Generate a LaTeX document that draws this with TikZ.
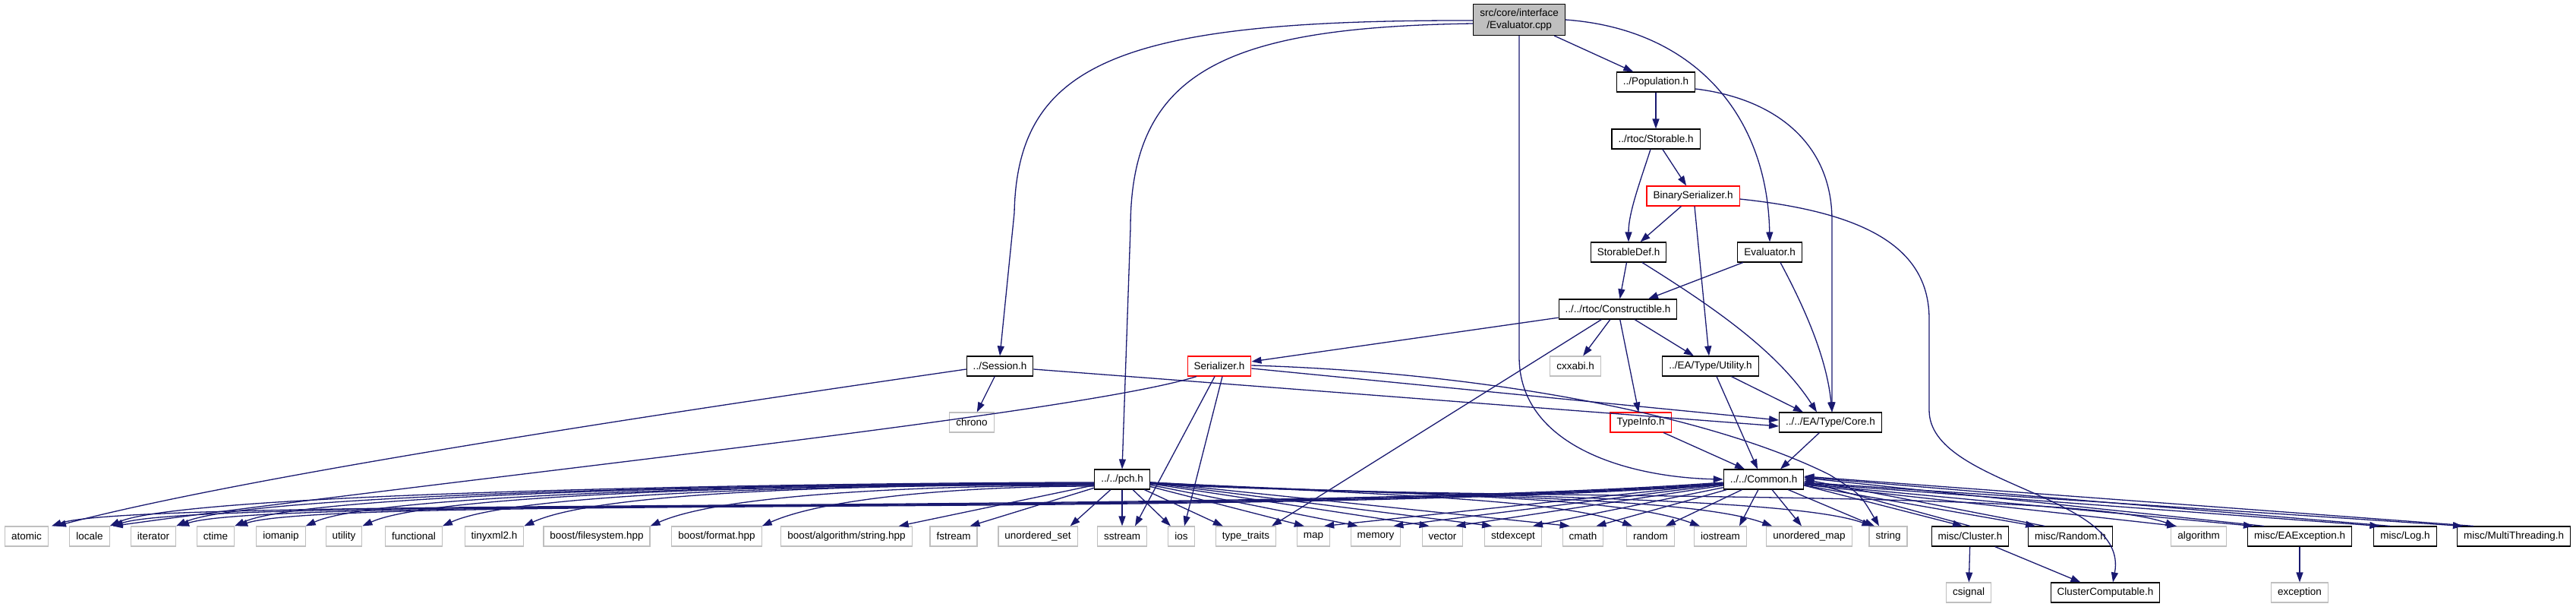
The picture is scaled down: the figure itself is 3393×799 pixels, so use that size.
\documentclass[tikz,border=0pt]{standalone}
\usepackage{fontspec}
\newfontfamily\dxfont{Liberation Sans}
\usetikzlibrary{arrows.meta}
\definecolor{incblue}{HTML}{191970}
\definecolor{sysgray}{HTML}{BFBFBF}
\tikzset{
  hdr/.style={draw=black, line width=1.1pt, fill=white, rectangle, minimum height=26pt, inner xsep=8.5pt, inner ysep=3pt, font=\dxfont\fontsize{13.5}{15.5}\selectfont},
  syshdr/.style={hdr, draw=sysgray},
  cuthdr/.style={hdr, draw=red},
  roothdr/.style={hdr, fill=sysgray, minimum height=41pt, align=center},
  incarrow/.style={draw=incblue, line width=1.3pt, -{Triangle[length=13pt, width=9pt]}}
}
\begin{document}
\begin{tikzpicture}[x=1pt, y=1pt]
  \useasboundingbox (0,0) rectangle (3393,-799);
  \node[roothdr] (root) at (2001,-26) {src/core/interface\\/Evaluator.cpp};
  \node[hdr] (population) at (2181,-108) {../Population.h};
  \node[hdr] (storable) at (2181,-183) {../rtoc/Storable.h};
  \node[cuthdr] (binser) at (2230,-258) {BinarySerializer.h};
  \node[hdr] (storabledef) at (2145,-332) {StorableDef.h};
  \node[hdr] (evalh) at (2331,-332) {Evaluator.h};
  \node[hdr] (constructible) at (2131,-407) {../../rtoc/Constructible.h};
  \node[hdr] (session) at (1317,-482) {../Session.h};
  \node[cuthdr] (serializer) at (1606,-482) {Serializer.h};
  \node[syshdr] (cxxabi) at (2075,-482) {cxxabi.h};
  \node[hdr] (eautility) at (2253,-482) {../EA/Type/Utility.h};
  \node[syshdr] (chrono) at (1280,-556) {chrono};
  \node[cuthdr] (typeinfo) at (2161,-556) {TypeInfo.h};
  \node[hdr] (eacore) at (2411,-556) {../../EA/Type/Core.h};
  \node[hdr] (pch) at (1478,-631) {../../pch.h};
  \node[hdr] (common) at (2323,-631) {../../Common.h};

  \node[syshdr] (atomic) at (35,-706) {atomic};
  \node[syshdr] (locale) at (118,-706) {locale};
  \node[syshdr] (iterator) at (202,-706) {iterator};
  \node[syshdr] (ctime) at (284,-706) {ctime};
  \node[syshdr] (iomanip) at (370,-706) {iomanip};
  \node[syshdr] (utility) at (453,-706) {utility};
  \node[syshdr] (functional) at (545,-706) {functional};
  \node[syshdr] (tinyxml) at (651,-706) {tinyxml2.h};
  \node[syshdr] (boostfs) at (786,-706) {boost/filesystem.hpp};
  \node[syshdr] (boostfmt) at (944,-706) {boost/format.hpp};
  \node[syshdr] (boostalg) at (1115,-706) {boost/algorithm/string.hpp};
  \node[syshdr] (fstream) at (1256,-706) {fstream};
  \node[syshdr] (uset) at (1367,-706) {unordered\_set};
  \node[syshdr] (sstream) at (1478,-706) {sstream};
  \node[syshdr] (ios) at (1556,-706) {ios};
  \node[syshdr] (typetraits) at (1641,-706) {type\_traits};
  \node[syshdr] (map) at (1730,-706) {map};
  \node[syshdr] (memory) at (1812,-706) {memory};
  \node[syshdr] (vector) at (1900,-706) {vector};
  \node[syshdr] (stdexcept) at (1993,-706) {stdexcept};
  \node[syshdr] (cmath) at (2085,-706) {cmath};
  \node[syshdr] (random) at (2174,-706) {random};
  \node[syshdr] (iostream) at (2266,-706) {iostream};
  \node[syshdr] (umap) at (2383,-706) {unordered\_map};
  \node[syshdr] (string) at (2487,-706) {string};
  \node[hdr] (cluster) at (2595,-706) {misc/Cluster.h};
  \node[hdr] (randomh) at (2727,-706) {misc/Random.h};
  \node[syshdr] (algorithm) at (2896,-706) {algorithm};
  \node[hdr] (eaexc) at (3029,-706) {misc/EAException.h};
  \node[hdr] (logh) at (3168,-706) {misc/Log.h};
  \node[hdr] (multith) at (3311,-706) {misc/MultiThreading.h};
  \node[syshdr] (csignal) at (2593,-780) {csignal};
  \node[hdr] (clustercomp) at (2773,-780) {ClusterComputable.h};
  \node[syshdr] (exception) at (3029,-780) {exception};

  \draw[incarrow] (root) -- (population);
  \draw[incarrow] (root.east) .. controls (2230,-38) and (2328,-150) .. (evalh.north);
  \draw[incarrow] (root.south) -- (2001,-470) .. controls (2001,-585) and (2140,-628) .. (common.west);
  \draw[incarrow] ([yshift=-5pt]root.west) .. controls (1620,-36) and (1489,-90) .. (1489,-300) -- (pch.north);
  \draw[incarrow] ([yshift=-1pt]root.west) .. controls (1480,-26) and (1340,-80) .. (1336,-280) -- (session.north);

  \draw[incarrow] (population) -- (storable);
  \draw[incarrow] ([yshift=-9pt]population.east) .. controls (2340,-130) and (2413,-190) .. (2413,-290) -- ([xshift=2pt]eacore.north);
  \draw[incarrow] (storable) -- (binser);
  \draw[incarrow] ([xshift=-7pt]storable.south) .. controls (2160,-240) and (2145,-280) .. (storabledef.north);
  \draw[incarrow] (binser) -- (storabledef);
  \draw[incarrow] ([xshift=2pt]binser.south) -- ([xshift=-2pt]eautility.north);
  \draw[incarrow] ([yshift=-4pt]binser.east) .. controls (2465,-280) and (2541,-330) .. (2541,-420) -- (2541,-540) .. controls (2541,-640) and (2805,-650) .. ([xshift=10pt]clustercomp.north);
  \draw[incarrow] (storabledef) -- (constructible);
  \draw[incarrow] ([xshift=18pt]storabledef.south) .. controls (2250,-400) and (2340,-460) .. ([xshift=-18pt]eacore.north);
  \draw[incarrow] (evalh) -- ([xshift=40pt]constructible.north);
  \draw[incarrow] ([xshift=14pt]evalh.south) .. controls (2385,-420) and (2407,-480) .. ([xshift=2pt]eacore.north);

  \draw[incarrow] (constructible) -- (serializer);
  \draw[incarrow] (constructible) -- (cxxabi);
  \draw[incarrow] (constructible) -- (typeinfo);
  \draw[incarrow] (constructible) -- (eautility);
  \draw[incarrow] (constructible) -- ([xshift=34pt]typetraits.north);

  \draw[incarrow] (session) -- (chrono);
  \draw[incarrow] ([yshift=-4pt]session.west) .. controls (900,-540) and (330,-625) .. ([xshift=10pt]atomic.north east);
  \draw[incarrow] ([yshift=-4pt]session.east) -- ([yshift=-5pt]eacore.west);
  \draw[incarrow] ([yshift=-3pt]serializer.east) -- ([yshift=3pt]eacore.west);
  \draw[incarrow] ([yshift=1pt]serializer.east) .. controls (1950,-490) and (2250,-545) .. (2410,-625) .. controls (2450,-650) .. ([xshift=-12pt]string.north);
  \draw[incarrow] ([xshift=-30pt]serializer.south) .. controls (1420,-545) and (600,-630) .. ([xshift=4pt]locale.north east);
  \draw[incarrow] ([xshift=-6pt]serializer.south) -- ([xshift=17pt]sstream.north);
  \draw[incarrow] ([xshift=4pt]serializer.south) -- ([xshift=4pt]ios.north);

  \draw[incarrow] (typeinfo) -- ([xshift=-25pt]common.north);
  \draw[incarrow] ([xshift=8pt]eautility.south) -- ([xshift=-8pt]common.north);
  \draw[incarrow] (eautility) -- ([xshift=-36pt]eacore.north);
  \draw[incarrow] (eacore) -- ([xshift=22pt]common.north);

  \draw[incarrow] ([yshift=-4pt]pch.west) .. controls +(-300,0) and +(100,46) .. (locale.north east);
  \draw[incarrow] ([yshift=-5pt]pch.west) .. controls +(-300,0) and +(100,46) .. (iterator.north east);
  \draw[incarrow] ([yshift=-5pt]pch.west) .. controls +(-300,0) and +(100,46) .. (ctime.north east);
  \draw[incarrow] ([yshift=-6pt]pch.west) .. controls +(-300,0) and +(100,46) .. (iomanip.north east);
  \draw[incarrow] ([yshift=-6pt]pch.west) .. controls +(-300,0) and +(100,46) .. (utility.north east);
  \draw[incarrow] ([yshift=-7pt]pch.west) .. controls +(-300,0) and +(100,46) .. (functional.north east);
  \draw[incarrow] ([yshift=-7pt]pch.west) .. controls +(-300,0) and +(100,46) .. (tinyxml.north east);
  \draw[incarrow] ([yshift=-8pt]pch.west) .. controls +(-250,0) and +(90,40) .. (boostfs.north east);
  \draw[incarrow] ([yshift=-9pt]pch.west) .. controls +(-180,0) and +(80,36) .. (boostfmt.north east);
  \draw[incarrow] (pch) -- ([xshift=-18pt]boostalg.north east);
  \draw[incarrow] (pch) -- ([xshift=-10pt]fstream.north east);
  \draw[incarrow] (pch) -- ([xshift=-10pt]uset.north east);
  \draw[incarrow] (pch) -- (sstream);
  \draw[incarrow] (pch) -- (ios);
  \draw[incarrow] (pch) -- ([xshift=10pt]typetraits.north west);
  \draw[incarrow] (pch) -- ([xshift=10pt]map.north west);
  \draw[incarrow] (pch) -- ([xshift=10pt]memory.north west);
  \draw[incarrow] (pch) -- ([xshift=10pt]vector.north west);
  \draw[incarrow] (pch) -- ([xshift=10pt]stdexcept.north west);
  \draw[incarrow] (pch) -- ([xshift=10pt]cmath.north west);
  \draw[incarrow] ([yshift=-4pt]pch.east) .. controls +(300,-16) and +(-100,36) .. ([xshift=8pt]random.north west);
  \draw[incarrow] ([yshift=-4pt]pch.east) .. controls +(350,-18) and +(-113,41) .. ([xshift=8pt]iostream.north west);
  \draw[incarrow] ([yshift=-5pt]pch.east) .. controls +(350,-18) and +(-113,41) .. ([xshift=8pt]umap.north west);
  \draw[incarrow] ([yshift=-5pt]pch.east) .. controls +(350,-18) and +(-113,41) .. ([xshift=4pt]string.north west);
  \draw[incarrow] ([yshift=-6pt]pch.east) .. controls +(450,-24) and +(-140,50) .. ([xshift=6pt]algorithm.north west);

  \draw[incarrow] ([yshift=-4pt]common.west) .. controls +(-600,-44) and +(120,40) .. ([xshift=4pt]atomic.north east);
  \draw[incarrow] ([yshift=-5pt]common.west) .. controls +(-600,-44) and +(120,40) .. ([xshift=4pt]locale.north east);
  \draw[incarrow] ([yshift=-6pt]common.west) .. controls +(-600,-44) and +(120,40) .. ([xshift=4pt]iterator.north east);
  \draw[incarrow] ([yshift=-7pt]common.west) .. controls +(-600,-44) and +(120,40) .. ([xshift=4pt]ctime.north east);
  \draw[incarrow] (common) -- ([xshift=-8pt]map.north east);
  \draw[incarrow] (common) -- ([xshift=-10pt]memory.north east);
  \draw[incarrow] (common) -- ([xshift=-10pt]vector.north east);
  \draw[incarrow] (common) -- ([xshift=-12pt]stdexcept.north east);
  \draw[incarrow] (common) -- ([xshift=-10pt]cmath.north east);
  \draw[incarrow] (common) -- ([xshift=-12pt]random.north east);
  \draw[incarrow] (common) -- ([xshift=-10pt]iostream.north east);
  \draw[incarrow] (common) -- ([xshift=-10pt]umap.north);
  \draw[incarrow] (common) -- ([xshift=-18pt]string.north);
  \draw[incarrow] ([yshift=-8pt]common.east) -- ([xshift=-10pt]cluster.north);
  \draw[incarrow] ([yshift=-8pt]common.east) -- ([xshift=10pt]randomh.north west);
  \draw[incarrow] ([yshift=-7pt]common.east) -- ([xshift=8pt]algorithm.north west);
  \draw[incarrow] ([yshift=-6pt]common.east) -- ([xshift=8pt]eaexc.north west);
  \draw[incarrow] ([yshift=-5pt]common.east) -- ([xshift=8pt]logh.north west);
  \draw[incarrow] ([yshift=-4pt]common.east) -- ([xshift=8pt]multith.north west);
  \draw[incarrow] (cluster.north) -- ([yshift=-2pt]common.east);
  \draw[incarrow] ([xshift=22pt]randomh.north west) -- ([yshift=0pt]common.east);
  \draw[incarrow] ([xshift=22pt]eaexc.north west) -- ([yshift=2pt]common.east);
  \draw[incarrow] ([xshift=22pt]logh.north west) -- ([yshift=3pt]common.east);
  \draw[incarrow] ([xshift=22pt]multith.north west) -- ([yshift=4pt]common.east);

  \draw[incarrow] (cluster) -- (csignal);
  \draw[incarrow] (cluster) -- (clustercomp);
  \draw[incarrow] (eaexc) -- (exception);
\end{tikzpicture}
\end{document}
